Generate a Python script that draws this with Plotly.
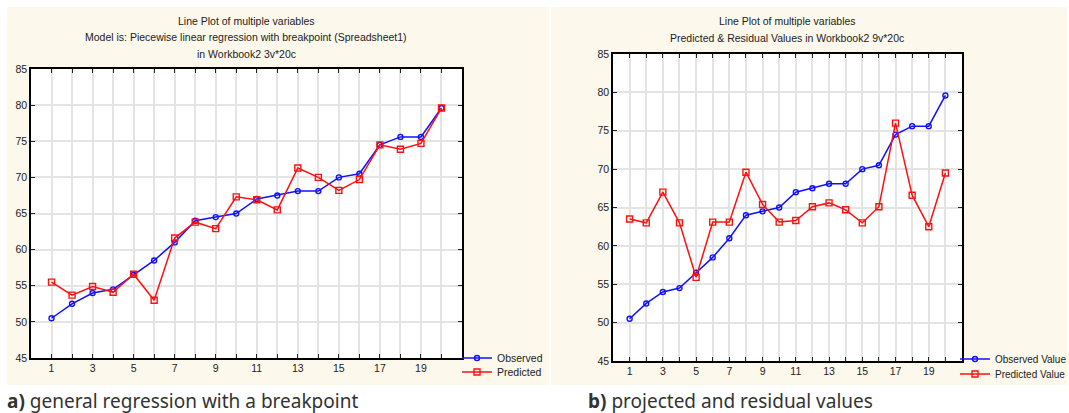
import plotly.graph_objects as go

# ---- data ----
cases = list(range(1, 21))
observed = [50.5, 52.5, 54.0, 54.5, 56.5, 58.5, 61.0, 64.0, 64.5, 65.0,
            67.0, 67.5, 68.1, 68.1, 70.0, 70.5, 74.5, 75.6, 75.6, 79.6]
predicted_a = [55.5, 53.7, 54.9, 54.1, 56.6, 53.0, 61.6, 63.8, 62.9, 67.3,
               66.9, 65.5, 71.3, 70.0, 68.2, 69.7, 74.5, 73.9, 74.7, 79.6]
predicted_b = [63.5, 63.0, 67.0, 63.0, 55.9, 63.1, 63.1, 69.6, 65.4, 63.1,
               63.3, 65.1, 65.6, 64.7, 63.0, 65.1, 76.0, 66.6, 62.5, 69.5]
x_ticks = list(range(1, 21))
x_labels = [str(i) if i % 2 == 1 else "" for i in x_ticks]
y_ticks = [45, 50, 55, 60, 65, 70, 75, 80, 85]

titles_a = ["Line Plot of multiple variables",
            "Model is: Piecewise linear regression with breakpoint (Spreadsheet1)",
            "in Workbook2 3v*20c"]
titles_b = ["Line Plot of multiple variables",
            "Predicted & Residual Values in Workbook2 9v*20c"]

BLUE = "#1010ff"
RED = "#ff1010"
W, H = 1069, 413


def px(x):
    return x / W


def py(y):
    return 1 - y / H


fig = go.Figure()


def add_pair(xa, ya, legs, pred, names):
    fig.add_trace(go.Scatter(
        x=cases, y=observed, xaxis=xa, yaxis=ya, legend=legs[0], name=names[0],
        mode="lines+markers", line=dict(color=BLUE, width=1.5),
        marker=dict(symbol="circle-open", size=5, color=BLUE, line=dict(width=1.4))))
    fig.add_trace(go.Scatter(
        x=cases, y=pred, xaxis=xa, yaxis=ya, legend=legs[1], name=names[1],
        mode="lines+markers", line=dict(color=RED, width=1.5),
        marker=dict(symbol="square-open", size=6, color=RED, line=dict(width=1.4))))


add_pair("x", "y", ["legend", "legend2"], predicted_a, ["Observed", "Predicted"])
add_pair("x2", "y2", ["legend3", "legend4"], predicted_b, ["Observed Value", "Predicted Value"])

axis_common = dict(showline=True, linecolor="black", linewidth=1.5, mirror="ticks",
                   ticks="inside", ticklen=4, tickwidth=1.3, tickcolor="#222",
                   showgrid=True, gridcolor="#e4e4e4", gridwidth=1.5, zeroline=False,
                   tickfont=dict(family="Liberation Sans, Arial", size=10.5, color="#222"))


def leg(x, y, size):
    return dict(x=px(x), y=py(y), xanchor="left", yanchor="middle", bgcolor="rgba(0,0,0,0)",
                font=dict(family="Liberation Sans, Arial", size=size, color="#222"),
                itemwidth=30, tracegroupgap=0, borderwidth=0)


fig.update_layout(
    width=W, height=H, margin=dict(l=0, r=0, t=0, b=0, autoexpand=False),
    paper_bgcolor="white", plot_bgcolor="white", showlegend=True,
    xaxis=dict(domain=[px(31), px(462)], range=[0, 21], tickvals=x_ticks, ticktext=x_labels,
               anchor="y", **axis_common),
    yaxis=dict(domain=[py(358), py(69)], range=[45, 85], tickvals=y_ticks,
               anchor="x", **axis_common),
    xaxis2=dict(domain=[px(613), px(962)], range=[0, 21], tickvals=x_ticks, ticktext=x_labels,
                anchor="y2", **axis_common),
    yaxis2=dict(domain=[py(361), py(54)], range=[45, 85], tickvals=y_ticks,
                anchor="x2", **axis_common),
    legend=leg(457, 358, 10.5),
    legend2=leg(457, 372, 10.5),
    legend3=leg(955, 359, 10),
    legend4=leg(955, 374, 10),
)

# cream panel backgrounds, white plot areas
for x0, x1 in [(7, 549), (551, 1067)]:
    fig.add_shape(type="rect", xref="paper", yref="paper", x0=px(x0), x1=px(x1),
                  y0=py(385), y1=py(7), fillcolor="#fdf8ec", line=dict(width=0), layer="below")
for xa, ya in [("x", "y"), ("x2", "y2")]:
    fig.add_shape(type="rect", xref=xa + " domain", yref=ya + " domain", x0=0, x1=1, y0=0, y1=1,
                  fillcolor="white", line=dict(width=0), layer="below")

title_font = dict(family="Liberation Sans, Arial", size=10.5, color="#222")
for i, t in enumerate(titles_a):
    fig.add_annotation(text=t, xref="paper", yref="paper", x=px(246), y=py(21 + 16.5 * i),
                       showarrow=False, font=title_font, xanchor="center", yanchor="middle")
for i, t in enumerate(titles_b):
    fig.add_annotation(text=t, xref="paper", yref="paper", x=px(787), y=py(21 + 17 * i),
                       showarrow=False, font=title_font, xanchor="center", yanchor="middle")

cap_font = dict(family="Noto Sans, Open Sans", size=19, color="#333")
fig.add_annotation(text="<b>a)</b> general regression with a breakpoint", xref="paper", yref="paper",
                   x=px(5), y=py(401), showarrow=False, font=cap_font, xanchor="left", yanchor="middle")
fig.add_annotation(text="<b>b)</b> projected and residual values", xref="paper", yref="paper",
                   x=px(586), y=py(401), showarrow=False, font=cap_font, xanchor="left", yanchor="middle")

fig.write_html("out.html")
